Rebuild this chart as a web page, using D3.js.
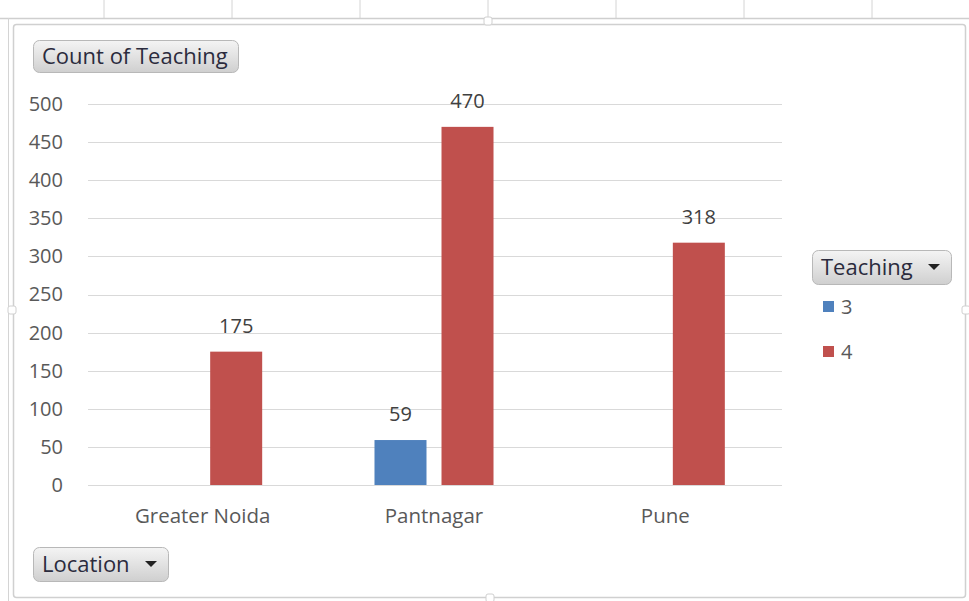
<!DOCTYPE html>
<html><head><meta charset="utf-8">
<script src="https://cdn.jsdelivr.net/npm/d3@7"></script>
<style>body{margin:0;background:#fff;}svg{display:block;font-family:"Open Sans","Noto Sans",sans-serif;}</style>
</head><body>
<svg id="c" width="969" height="601"></svg>
<script>
const categories = ["Greater Noida", "Pantnagar", "Pune"];
const seriesNames = ["3", "4"];
const values3 = [null, 59, null];
const values4 = [175, 470, 318];
const yTicks = [0, 50, 100, 150, 200, 250, 300, 350, 400, 450, 500];
const colors = {"3": "#4f81bd", "4": "#c0504d"};

(function(){
const svg = d3.select("#c");
const defs = svg.append("defs");
const g = defs.append("linearGradient").attr("id","btn").attr("x1",0).attr("y1",0).attr("x2",0).attr("y2",1);
g.append("stop").attr("offset","0%").attr("stop-color","#f4f4f4");
g.append("stop").attr("offset","50%").attr("stop-color","#e2e2e2");
g.append("stop").attr("offset","100%").attr("stop-color","#cfcfcf");

// spreadsheet background grid
[104,232,360,488,616,744,872].forEach(x=>svg.append("line").attr("x1",x).attr("x2",x).attr("y1",0).attr("y2",18).attr("stroke","#d4d4d4"));
svg.append("line").attr("x1",0).attr("x2",969).attr("y1",18.5).attr("y2",18.5).attr("stroke","#cfcfcf").attr("stroke-width",1.5);
svg.append("line").attr("x1",8.5).attr("x2",8.5).attr("y1",18).attr("y2",601).attr("stroke","#d4d4d4");
// chart frame
svg.append("rect").attr("x",13.5).attr("y",24.5).attr("width",952).attr("height",573).attr("rx",3)
  .attr("fill","#fff").attr("stroke","#d0d0d0").attr("stroke-width",1.5);
// handles
[[488,21],[12,310],[966,310],[490,598]].forEach(([x,yy])=>svg.append("rect").attr("x",x-4).attr("y",yy-4).attr("width",8).attr("height",8).attr("rx",2).attr("fill","#fff").attr("stroke","#d0d0d0"));

const pLeft = 87, pRight = 781, pTop = 104, pBottom = 485;
const x0 = d3.scaleBand().domain(categories).range([pLeft,pRight]).paddingInner(0.4855).paddingOuter(0.2428);
const x1 = d3.scaleBand().domain(seriesNames).range([0,x0.bandwidth()]).paddingInner(0.224);
const y = d3.scaleLinear().domain([0,500]).range([pBottom,pTop]);

// gridlines
svg.append("g").selectAll("line").data(yTicks).join("line")
  .attr("x1",pLeft+1).attr("x2",pRight+1).attr("y1",d=>Math.round(y(d))+0.5).attr("y2",d=>Math.round(y(d))+0.5)
  .attr("stroke","#d9d9d9");

// y axis labels
const yAxis = d3.axisLeft(y).tickValues(yTicks).tickSize(0).tickPadding(24);
const ya = svg.append("g").attr("transform",`translate(${pLeft},0)`).call(yAxis);
ya.select(".domain").remove();
ya.selectAll("text").attr("font-size",20).attr("fill","#595959").attr("font-family","\"Open Sans\",sans-serif");

// x axis labels
const xAxis = d3.axisBottom(x0).tickSize(0).tickPadding(23);
const xa = svg.append("g").attr("transform",`translate(0,${pBottom})`).call(xAxis);
xa.select(".domain").remove();
xa.selectAll("text").attr("font-size",20.5).attr("fill","#595959").attr("font-family","\"Open Sans\",sans-serif");

const data = [];
categories.forEach((c,i)=>{
  if(values3[i]!=null) data.push({cat:c,s:"3",v:values3[i]});
  if(values4[i]!=null) data.push({cat:c,s:"4",v:values4[i]});
});

svg.append("g").selectAll("rect").data(data).join("rect")
  .attr("x",d=>x0(d.cat)+x1(d.s)).attr("width",x1.bandwidth())
  .attr("y",d=>y(d.v)).attr("height",d=>y(0)-y(d.v))
  .attr("fill",d=>colors[d.s]);

svg.append("g").selectAll("text").data(data).join("text")
  .attr("x",d=>x0(d.cat)+x1(d.s)+x1.bandwidth()/2).attr("y",d=>y(d.v)-19)
  .attr("text-anchor","middle").attr("font-size",20).attr("fill","#404040").text(d=>d.v);

// buttons
function button(x,yy,w,h,label,arrow){
  const b = svg.append("g");
  b.append("rect").attr("x",x+0.5).attr("y",yy+0.5).attr("width",w).attr("height",h).attr("rx",6)
    .attr("fill","url(#btn)").attr("stroke","#b8b8b8");
  b.append("text").attr("x",x+9).attr("y",yy+h/2+7.5).attr("font-size",22).attr("fill","#2b2b3d").text(label);
  if(arrow){
    const ax = x+w-17, ay = yy+h/2-3;
    b.append("path").attr("d",`M${ax-6},${ay} L${ax+6},${ay} L${ax},${ay+6} Z`).attr("fill","#222");
  }
}
button(33,40,205,32,"Count of Teaching",false);
button(812,250,139,34,"Teaching",true);
button(33,547,135,34,"Location",true);

// legend
const leg = svg.append("g");
seriesNames.forEach((s,i)=>{
  const yy = 301 + i*45;
  leg.append("rect").attr("x",823).attr("y",yy).attr("width",11).attr("height",11).attr("fill",colors[s]);
  leg.append("text").attr("x",841).attr("y",yy+13).attr("font-size",20).attr("fill","#595959").text(s);
});
})();
</script>
</body></html>
